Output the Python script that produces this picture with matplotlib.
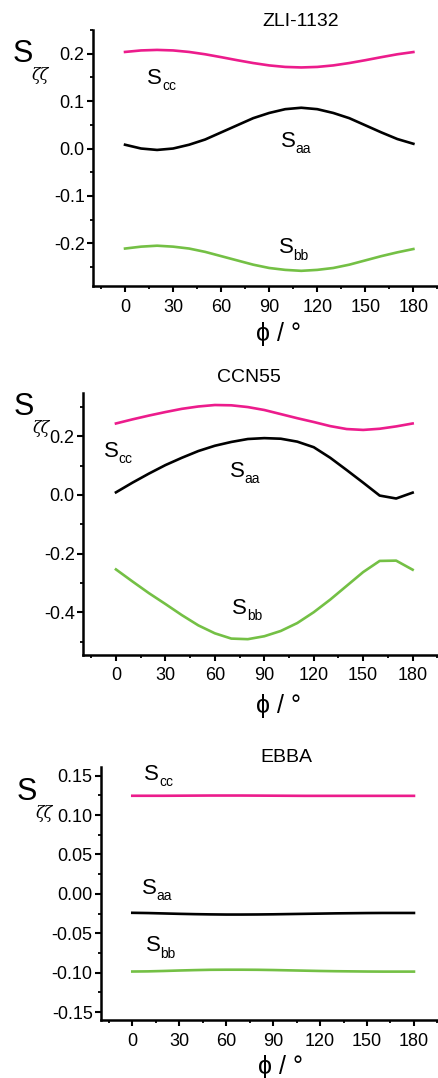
import matplotlib
matplotlib.use('Agg')
import matplotlib.pyplot as plt
from matplotlib.ticker import MultipleLocator, FormatStrFormatter

plt.rcParams['font.family'] = ['Liberation Sans', 'DejaVu Sans']

# Rotation angle phi (degrees)
phi = [0, 10, 20, 30, 40, 50, 60, 70, 80, 90, 100, 110, 120, 130, 140, 150, 160, 170, 180]

# ZLI-1132
zli_scc = [0.2037, 0.2069, 0.2080, 0.2069, 0.2037, 0.1988, 0.1927, 0.1863, 0.1803, 0.1753,
           0.1721, 0.1710, 0.1721, 0.1753, 0.1803, 0.1863, 0.1927, 0.1988, 0.2035]
zli_saa = [0.008, 0.000, -0.003, 0.000, 0.008, 0.019, 0.034, 0.049, 0.064, 0.075,
           0.083, 0.086, 0.083, 0.075, 0.064, 0.049, 0.034, 0.020, 0.010]
zli_sbb = [-0.211, -0.207, -0.205, -0.207, -0.211, -0.218, -0.227, -0.236, -0.245, -0.252,
           -0.256, -0.258, -0.256, -0.252, -0.245, -0.236, -0.227, -0.219, -0.212]

# CCN55
ccn_scc = [0.244, 0.258, 0.271, 0.283, 0.294, 0.302, 0.307, 0.306, 0.300, 0.290,
           0.276, 0.262, 0.249, 0.235, 0.225, 0.222, 0.226, 0.234, 0.244]
ccn_saa = [0.009, 0.042, 0.073, 0.102, 0.127, 0.150, 0.168, 0.181, 0.191, 0.194,
           0.192, 0.182, 0.163, 0.127, 0.085, 0.042, -0.002, -0.012, 0.008]
ccn_sbb = [-0.254, -0.295, -0.335, -0.372, -0.410, -0.445, -0.472, -0.490, -0.492, -0.482,
           -0.464, -0.437, -0.400, -0.357, -0.310, -0.263, -0.225, -0.224, -0.255]

# EBBA
ebba_scc = [0.1245, 0.1245, 0.1245, 0.1246, 0.1247, 0.1248, 0.1248, 0.1248, 0.1247, 0.1246,
            0.1245, 0.1244, 0.1244, 0.1244, 0.1244, 0.1244, 0.1244, 0.1244, 0.1244]
ebba_saa = [-0.0240, -0.0243, -0.0248, -0.0253, -0.0257, -0.0260, -0.0262, -0.0262, -0.0261, -0.0259,
            -0.0256, -0.0253, -0.0250, -0.0247, -0.0245, -0.0243, -0.0242, -0.0242, -0.0242]
ebba_sbb = [-0.0985, -0.0983, -0.0978, -0.0972, -0.0967, -0.0963, -0.0962, -0.0962, -0.0963, -0.0966,
            -0.0970, -0.0974, -0.0978, -0.0981, -0.0983, -0.0985, -0.0986, -0.0986, -0.0986]

PINK = '#EC1C8C'
GREEN = '#74C045'
W, H = 439, 1078

fig = plt.figure(figsize=(W / 100, H / 100), dpi=100)


def px_axes(left, top, right, bottom):
    return fig.add_axes([left / W, 1 - bottom / H, (right - left) / W, (bottom - top) / H])


def ftext(x, y, s, **kw):
    fig.text(x / W, 1 - y / H, s, **kw)


def style(ax, ylim, ymaj, ymin, fmt):
    ax.set_xlim(-20, 196)
    ax.set_ylim(*ylim)
    for side in ['top', 'right']:
        ax.spines[side].set_visible(False)
    for side in ['left', 'bottom']:
        ax.spines[side].set_linewidth(1.8)
    ax.xaxis.set_minor_locator(MultipleLocator(15))
    ax.yaxis.set_major_locator(MultipleLocator(ymaj))
    ax.yaxis.set_minor_locator(MultipleLocator(ymin))
    ax.set_xticks([0, 30, 60, 90, 120, 150, 180])
    ax.tick_params(which='major', direction='out', length=4, width=1.5, labelsize=13, pad=2)
    ax.tick_params(which='minor', direction='out', length=2.5, width=1.3)
    ax.tick_params(axis='x', which='major', pad=5)
    ax.yaxis.set_major_formatter(FormatStrFormatter(fmt))


def draw(ax, scc, saa, sbb):
    ax.plot(phi, scc, color=PINK, lw=1.9)
    ax.plot(phi, saa, color='black', lw=1.9)
    ax.plot(phi, sbb, color=GREEN, lw=1.9)


def lab(ax, x, y, sub):
    ax.text(x, y, 'S', fontsize=16, va='baseline', ha='left')
    ax.annotate(sub, (x, y), xytext=(10.5, -4.5), textcoords='offset points',
                fontsize=10, va='baseline', ha='left')


def ylab(x, y):
    # x, y: left edge and baseline of the big S (pixels)
    ftext(x, y, 'S', fontsize=22, ha='left', va='baseline')
    ftext(x + 19, y + 5, 'ζζ', fontsize=11.5, ha='left', va='top',
          family=['DejaVu Serif'], style='italic')


# Panel 1: ZLI-1132
ax1 = px_axes(93, 30, 439, 286)
draw(ax1, zli_scc, zli_saa, zli_sbb)
style(ax1, (-0.29, 0.25), 0.1, 0.05, '%.1f')
lab(ax1, 14, 0.136, 'cc')
lab(ax1, 97.5, 0.004, 'aa')
lab(ax1, 96, -0.221, 'bb')
ftext(301, 22, 'ZLI-1132', fontsize=14, ha='center', va='center')
ylab(13, 62)
ftext(279, 334, 'ϕ / °', fontsize=18, ha='center', va='center')

# Panel 2: CCN55
ax2 = px_axes(83, 393, 439, 655)
draw(ax2, ccn_scc, ccn_saa, ccn_sbb)
style(ax2, (-0.546, 0.348), 0.2, 0.1, '%.1f')
lab(ax2, -7.5, 0.130, 'cc')
lab(ax2, 69, 0.062, 'aa')
lab(ax2, 70.5, -0.405, 'bb')
ftext(249, 378, 'CCN55', fontsize=14, ha='center', va='center')
ylab(14, 415)
ftext(279, 706, 'ϕ / °', fontsize=18, ha='center', va='center')

# Panel 3: EBBA
ax3 = px_axes(101, 767, 439, 1020)
draw(ax3, ebba_scc, ebba_saa, ebba_sbb)
style(ax3, (-0.16, 0.161), 0.05, 0.025, '%.2f')
lab(ax3, 7.7, 0.145, 'cc')
lab(ax3, 6.2, 0.0, 'aa')
lab(ax3, 8.8, -0.073, 'bb')
ftext(286, 757, 'EBBA', fontsize=14, ha='center', va='center')
ylab(17, 800)
ftext(281, 1067, 'ϕ / °', fontsize=18, ha='center', va='center')

plt.savefig('out.png', dpi=100)
plt.close()
